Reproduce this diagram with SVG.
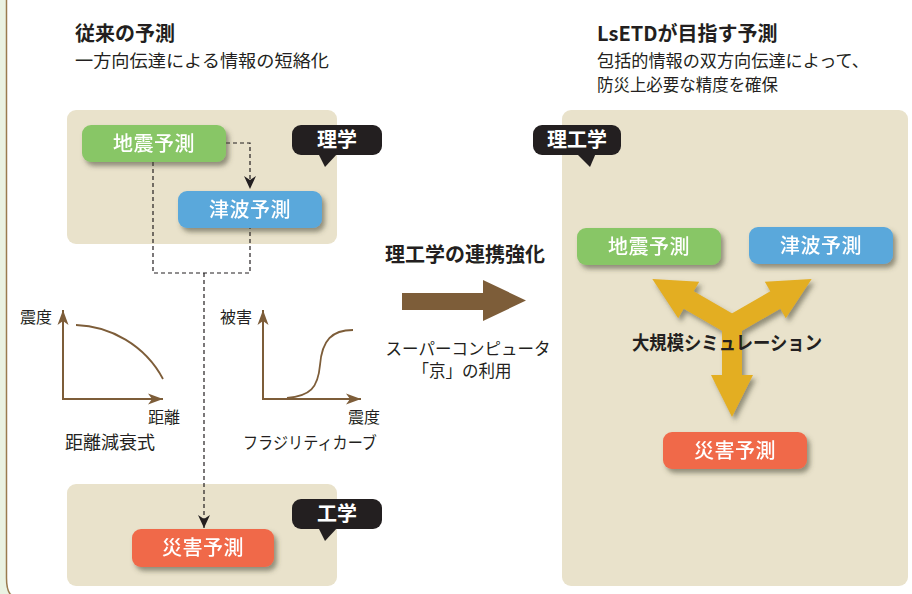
<svg xmlns="http://www.w3.org/2000/svg" width="912" height="594" viewBox="0 0 912 594">
<defs>
<style>
.panel{fill:#E9E2CB}
.lbl{font-family:"Noto Sans CJK JP",sans-serif;fill:#fff;font-size:20px;font-weight:500;text-anchor:middle;letter-spacing:0.5px}
.call{fill:#231F20}
.calltxt{font-family:"Noto Sans CJK JP",sans-serif;fill:#fff;font-size:20px;font-weight:700;text-anchor:middle}
.dark{font-family:"Noto Sans CJK JP",sans-serif;fill:#231F20}
.dash{fill:none;stroke:#231F20;stroke-width:1.2;stroke-dasharray:4 3}
.axis{fill:none;stroke:#7D5D39;stroke-width:2}
.curve{fill:none;stroke:#7D5D39;stroke-width:1.8}
.gold{fill:#E3AE22}
</style>
<filter id="sh" x="-20%" y="-30%" width="150%" height="180%">
<feDropShadow dx="3" dy="4" stdDeviation="2.5" flood-color="#4a4a38" flood-opacity="0.55"/>
</filter>
<marker id="dhead" markerUnits="userSpaceOnUse" markerWidth="14" markerHeight="14" viewBox="0 0 14 14" refX="13" refY="7" orient="auto">
<path d="M0,1 L13,7 L0,13 L4,7 Z" fill="#231F20"/>
</marker>
<marker id="bhead" markerUnits="userSpaceOnUse" markerWidth="16" markerHeight="12" viewBox="0 0 16 12" refX="15" refY="6" orient="auto">
<path d="M0,0.5 L15,6 L0,11.5 L4,6 Z" fill="#7D5D39"/>
</marker>
</defs>

<rect width="912" height="594" fill="#fff"/>
<!-- left frame -->
<path d="M0,0 H6.5 V578 Q6.5,592 12,594 H0 Z" fill="#EAF2E2"/>
<path d="M6.5,0 V578 Q6.5,592 12,596" fill="none" stroke="#9A7B4F" stroke-width="1.5"/>

<!-- headings -->
<g id="heading-left">
<text class="dark" x="75" y="41" font-size="20" font-weight="700">従来の予測</text>
<text class="dark" x="75" y="67" font-size="17" textLength="254" lengthAdjust="spacingAndGlyphs">一方向伝達による情報の短絡化</text>
</g>
<g id="heading-right">
<text class="dark" x="597" y="41" font-size="20" font-weight="700">LsETDが目指す予測</text>
<text class="dark" x="597" y="67" font-size="17" textLength="272" lengthAdjust="spacingAndGlyphs">包括的情報の双方向伝達によって、</text>
<text class="dark" x="597" y="91" font-size="17" textLength="181" lengthAdjust="spacingAndGlyphs">防災上必要な精度を確保</text>
</g>

<!-- panels -->
<rect id="panel-science" class="panel" x="67" y="110" width="270" height="134" rx="9"/>
<rect id="panel-engineering" class="panel" x="67" y="484" width="270" height="102" rx="9"/>
<rect id="panel-right" class="panel" x="562" y="110" width="346" height="476" rx="9"/>

<!-- callouts -->
<g id="callout-rigaku">
<rect class="call" x="292" y="125" width="90" height="30" rx="9"/>
<path class="call" d="M318,153 L338,153 L325,167 Z"/>
<text class="calltxt" x="337" y="147">理学</text>
</g>
<g id="callout-kogaku">
<rect class="call" x="292" y="499" width="90" height="30" rx="9"/>
<path class="call" d="M318,527 L338,527 L325,541 Z"/>
<text class="calltxt" x="337" y="521">工学</text>
</g>
<g id="callout-rikogaku">
<rect class="call" x="533" y="125" width="88" height="30" rx="9"/>
<path class="call" d="M576,153 L596,153 L590,167 Z"/>
<text class="calltxt" x="577" y="147">理工学</text>
</g>

<!-- connectors -->
<g id="connectors">
<path class="dash" d="M226,143 H250 V189" marker-end="url(#dhead)"/>
<path class="dash" d="M153,162 V273 H250 V228"/>
<path class="dash" d="M204,273 V528" marker-end="url(#dhead)"/>
</g>

<!-- left nodes -->
<g id="node-eq-left" filter="url(#sh)">
<rect x="82" y="125" width="144" height="37" rx="9" fill="#88C666"/>
<text class="lbl" x="154" y="151">地震予測</text>
</g>
<g id="node-ts-left" filter="url(#sh)">
<rect x="178" y="191" width="144" height="37" rx="9" fill="#5AA8DB"/>
<text class="lbl" x="250" y="217">津波予測</text>
</g>
<g id="node-dm-left" filter="url(#sh)">
<rect x="132" y="529" width="142" height="38" rx="9" fill="#F0694A"/>
<text class="lbl" x="203" y="555">災害予測</text>
</g>

<!-- graph: attenuation -->
<g id="graph-attenuation">
<path class="axis" d="M63,399 V310" marker-end="url(#bhead)"/>
<path class="axis" d="M62,399 H163" marker-end="url(#bhead)"/>
<path class="curve" d="M76,325 C110,326 145,345 163,379"/>
<text class="dark" x="20" y="323" font-size="16">震度</text>
<text class="dark" x="148" y="423" font-size="16">距離</text>
<text class="dark" x="65" y="449" font-size="18">距離減衰式</text>
</g>
<!-- graph: fragility -->
<g id="graph-fragility">
<path class="axis" d="M263,399 V310" marker-end="url(#bhead)"/>
<path class="axis" d="M262,399 H361" marker-end="url(#bhead)"/>
<path class="curve" d="M287,398 C310,396 318,388 320,365 C322,340 332,330 353,330"/>
<text class="dark" x="220" y="323" font-size="16">被害</text>
<text class="dark" x="348" y="423" font-size="16">震度</text>
<text class="dark" x="243" y="449" font-size="17" textLength="134" lengthAdjust="spacingAndGlyphs">フラジリティカーブ</text>
</g>

<!-- middle -->
<g id="middle">
<text class="dark" x="465" y="262" font-size="20" font-weight="700" text-anchor="middle">理工学の連携強化</text>
<path d="M402,293 H483 V280 L526,300.5 L483,321 V310 H402 Z" fill="#7D5D39"/>
<text class="dark" x="468" y="355" font-size="16.5" text-anchor="middle">スーパーコンピュータ</text>
<text class="dark" x="462" y="377" font-size="16.5" text-anchor="middle">「京」の利用</text>
</g>

<!-- right nodes -->
<g id="node-eq-right" filter="url(#sh)">
<rect x="577" y="228" width="144" height="37" rx="9" fill="#88C666"/>
<text class="lbl" x="649" y="254">地震予測</text>
</g>
<g id="node-ts-right" filter="url(#sh)">
<rect x="749" y="227" width="144" height="37" rx="9" fill="#5AA8DB"/>
<text class="lbl" x="821" y="253">津波予測</text>
</g>
<g id="node-dm-right" filter="url(#sh)">
<rect x="663" y="432" width="144" height="37" rx="9" fill="#F0694A"/>
<text class="lbl" x="735" y="458">災害予測</text>
</g>

<!-- simulation arrows -->
<g id="simulation" filter="url(#sh)">
<g class="gold" transform="translate(732,325)">
<circle r="11"/>
<path transform="rotate(-150)" d="M-4,-10 H50 V-21 L92,0 L50,21 V10 H-4 Z"/>
<path transform="rotate(-30)" d="M-4,-10 H50 V-21 L92,0 L50,21 V10 H-4 Z"/>
<path transform="rotate(90)" d="M-4,-10 H50 V-21 L92,0 L50,21 V10 H-4 Z"/>
</g>
</g>
<text class="dark" x="632" y="350" font-size="19" font-weight="700" textLength="190" lengthAdjust="spacingAndGlyphs">大規模シミュレーション</text>
</svg>
